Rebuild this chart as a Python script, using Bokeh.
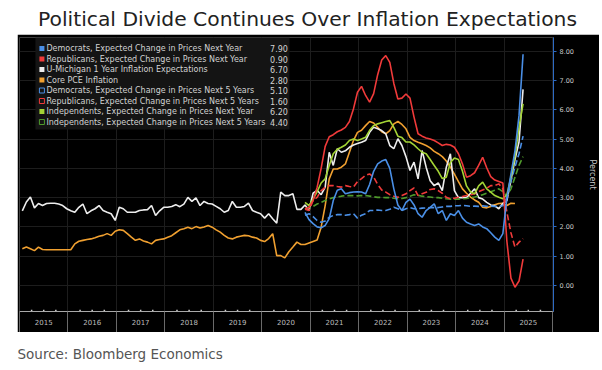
import pandas as pd
from bokeh.plotting import figure
from bokeh.models import Range1d, FixedTicker, PrintfTickFormatter, CustomJSTickFormatter, Spacer
from bokeh.layouts import column, row
from bokeh.core.properties import value
from bokeh.embed import file_html
from bokeh.resources import INLINE

# ---------------- data ----------------
TITLE = "Political Divide Continues Over Inflation Expectations"
SOURCE = "Source: Bloomberg Economics"
YEAR_LABELS = ["2015", "2016", "2017", "2018", "2019", "2020",
               "2021", "2022", "2023", "2024", "2025"]
Y_TICKS = [0, 1, 2, 3, 4, 5, 6, 7, 8]
Y_LABEL = "Percent"

UMICH_START = "2015-01"
UMICH_1Y = [
    2.55, 2.85, 3.02, 2.65, 2.80, 2.73, 2.80, 2.81, 2.81, 2.78, 2.73, 2.62,
    2.55, 2.50, 2.67, 2.78, 2.45, 2.55, 2.62, 2.73, 2.56, 2.50, 2.45, 2.22,
    2.67, 2.62, 2.50, 2.50, 2.50, 2.56, 2.58, 2.59, 2.73, 2.39, 2.55, 2.67,
    2.67, 2.70, 2.76, 2.69, 2.78, 3.01, 2.87, 2.99, 2.73, 2.87, 2.80, 2.78,
    2.70, 2.62, 2.50, 2.56, 2.87, 2.67, 2.67, 2.70, 2.81, 2.56, 2.50, 2.45,
    2.30, 2.45, 2.28, 2.13, 3.19, 3.07, 3.07, 3.13, 2.60, 2.60, 2.75, 2.56,
    3.15, 3.25, 3.10, 3.36, 4.55, 4.10, 4.67, 4.55, 4.60, 4.72, 4.80, 4.85,
    4.89, 4.95, 5.23, 5.40, 5.35, 5.29, 5.18, 4.78, 4.67, 5.01, 4.78, 4.40,
    3.93, 4.21, 3.64, 4.61, 4.04, 3.58, 3.41, 3.50, 3.24, 4.04, 4.50, 3.24,
    3.00, 3.00, 3.00, 3.15, 3.30, 3.00, 2.95, 2.84, 2.75, 2.72, 2.62, 2.80,
    2.90, 3.60, 4.30, 4.90, 6.70,
]

PCE_START = "2015-01"
CORE_PCE = [
    1.25, 1.31, 1.25, 1.19, 1.31, 1.23, 1.22, 1.22, 1.22, 1.22, 1.22, 1.22,
    1.22, 1.42, 1.51, 1.54, 1.57, 1.59, 1.63, 1.68, 1.71, 1.77, 1.71, 1.85,
    1.90, 1.88, 1.77, 1.65, 1.54, 1.59, 1.52, 1.48, 1.42, 1.54, 1.57, 1.59,
    1.65, 1.70, 1.80, 1.90, 1.94, 1.99, 1.94, 2.01, 1.96, 2.00, 2.05, 1.99,
    1.90, 1.82, 1.71, 1.62, 1.59, 1.65, 1.68, 1.71, 1.70, 1.65, 1.62, 1.54,
    1.50, 1.60, 1.77, 1.02, 1.02, 0.94, 1.15, 1.31, 1.48, 1.40, 1.40, 1.45,
    1.50, 1.55, 1.99, 2.73, 3.64, 3.98, 3.98, 4.04, 4.15, 4.55, 4.95, 5.23,
    5.30, 5.46, 5.60, 5.55, 5.40, 5.25, 5.18, 5.29, 5.52, 5.60, 5.50, 5.35,
    5.06, 4.95, 4.89, 4.84, 4.78, 4.70, 4.58, 4.50, 4.40, 4.25, 4.04, 3.80,
    3.55, 3.30, 3.15, 3.02, 2.92, 2.84, 2.67, 2.65, 2.70, 2.76, 2.80, 2.81,
    2.73, 2.81, 2.80,
]

PARTISAN_START = "2020-11"
DEM_1Y = [
    2.50, 2.25,
    2.11, 2.00, 1.97, 2.05, 2.28, 2.90, 3.25, 3.30, 3.13, 3.17, 3.19, 3.20,
    3.19, 3.13, 3.45, 3.90, 4.15, 4.25, 4.30, 4.00, 3.30, 2.75, 2.56, 2.84,
    2.95, 2.75, 2.45, 2.33, 2.56, 2.67, 2.79, 2.45, 2.56, 2.22, 2.45, 2.39,
    2.56, 2.30, 2.16, 2.10, 2.05, 2.10, 2.00, 1.94, 1.80, 1.65, 1.54, 1.77,
    3.00, 3.80, 4.60, 5.80, 7.90,
]
REP_1Y = [
    2.62, 2.67,
    2.90, 3.35, 4.00, 4.75, 5.08, 5.15, 5.25, 5.31, 5.40, 5.60, 6.03, 6.60,
    6.80, 6.49, 6.26, 6.55, 7.20, 7.70, 7.85, 7.62, 6.90, 6.37, 6.40, 6.54,
    6.40, 5.75, 5.18, 5.10, 5.04, 5.00, 4.95, 4.87, 4.78, 4.82, 4.80, 4.72,
    4.50, 4.15, 3.70, 3.75, 3.85, 4.10, 4.38, 4.02, 3.72, 3.60, 3.55, 3.50,
    1.50, 0.25, -0.06, 0.15, 0.90,
]
DEM_5Y = [
    2.40, 2.45,
    2.35, 2.22, 2.16, 2.20, 2.33, 2.39, 2.42, 2.42, 2.40, 2.42, 2.45, 2.30,
    2.40, 2.45, 2.56, 2.56, 2.58, 2.56, 2.56, 2.60, 2.67, 2.62, 2.56, 2.62,
    2.66, 2.62, 2.62, 2.64, 2.65, 2.66, 2.66, 2.66, 2.68, 2.70, 2.70, 2.72,
    2.72, 2.74, 2.72, 2.70, 2.71, 2.70, 2.72, 2.70, 2.71, 2.70, 2.70, 2.72,
    3.00, 3.55, 4.05, 4.50, 5.10,
]
REP_5Y = [
    2.60, 2.56,
    2.90, 3.01, 3.24, 3.35, 3.41, 3.41, 3.38, 3.36, 3.41, 3.38, 3.36, 3.55,
    3.65, 3.76, 3.81, 3.70, 3.45, 3.26, 3.19, 3.10, 3.05, 3.01, 3.07, 3.13,
    3.24, 3.33, 3.07, 3.13, 3.18, 3.28, 3.30, 3.24, 3.15, 3.01, 2.96, 2.98,
    3.01, 3.04, 3.07, 3.10, 3.13, 3.20, 3.26, 3.32, 3.41, 3.41, 3.47, 3.30,
    2.50, 1.80, 1.31, 1.48, 1.60,
]
IND_1Y = [
    2.84, 2.73,
    2.95, 3.20, 3.50, 3.64, 4.10, 4.50, 4.65, 4.72, 4.80, 4.95, 5.00, 4.95,
    5.00, 5.06, 5.30, 5.46, 5.52, 5.56, 5.60, 5.63, 5.40, 5.10, 5.05, 4.90,
    4.90, 4.80, 4.67, 4.55, 4.50, 4.30, 4.10, 3.90, 3.65, 3.70, 4.20, 4.35,
    4.30, 3.90, 3.40, 3.19, 3.13, 3.40, 3.53, 3.30, 3.19, 3.07, 3.01, 2.96,
    3.10, 3.70, 4.40, 5.40, 6.20,
]
IND_5Y = [
    2.60, 2.65,
    2.70, 2.78, 2.84, 2.90, 2.96, 3.00, 3.02, 3.05, 3.07, 3.07, 3.07, 3.06,
    3.07, 3.07, 3.05, 3.03, 3.01, 3.01, 3.00, 3.00, 2.98, 2.96, 2.97, 3.00,
    3.05, 3.10, 3.08, 3.05, 3.03, 3.02, 3.00, 3.00, 2.98, 2.96, 2.95, 2.95,
    2.95, 2.96, 2.97, 3.00, 3.02, 3.05, 3.10, 3.15, 3.20, 3.25, 3.30, 3.20,
    3.05, 3.30, 3.70, 4.10, 4.40,
]

BLUE = "#4a8fe6"
RED = "#f03a3a"
WHITE = "#ededed"
ORANGE = "#f0a030"
GREEN = "#a3d435"
DKGREEN = "#4f9a2c"

# label, values, start month, colour, dash (None = solid)
SERIES = [
    ("Democrats, Expected Change in Prices Next Year", DEM_1Y, PARTISAN_START, BLUE, None),
    ("Republicans, Expected Change in Prices Next Year", REP_1Y, PARTISAN_START, RED, None),
    ("U-Michigan 1 Year Inflation Expectations", UMICH_1Y, UMICH_START, WHITE, None),
    ("Core PCE Inflation", CORE_PCE, PCE_START, ORANGE, None),
    ("Democrats, Expected Change in Prices Next 5 Years", DEM_5Y, PARTISAN_START, BLUE, "6 3"),
    ("Republicans, Expected Change in Prices Next 5 Years", REP_5Y, PARTISAN_START, RED, "6 3"),
    ("Independents, Expected Change in Prices Next Year", IND_1Y, PARTISAN_START, GREEN, None),
    ("Independents, Expected Change in Prices Next 5 Years", IND_5Y, PARTISAN_START, DKGREEN, "6 3"),
]
DRAW_ORDER = [3, 2, 7, 4, 5, 6, 1, 0]


def month_x(start, n):
    d = pd.date_range(start, periods=n, freq="MS")
    return list(d.year + (d.month - 0.3) / 12.0)


# ---------------- main chart ----------------
X0, X1 = 2015.0, 2026.02
Y0, Y1 = -0.89, 8.47
W, H = 582, 298
ML, MR, MT, MB = 2, 44, 3, 21
FONT = "DejaVu Sans"

p = figure(width=W, height=H, x_range=Range1d(X0, X1), y_range=Range1d(Y0, Y1),
           y_axis_location="right", toolbar_location=None, output_backend="svg",
           title=None, background_fill_color="black", border_fill_color="black",
           outline_line_color=None, min_border_left=ML, min_border_right=MR,
           min_border_top=MT, min_border_bottom=MB)


def fx(px):
    return X0 + (px - ML) / (W - ML - MR) * (X1 - X0)


def fy(py):
    return Y1 - (py - MT) / (H - MT - MB) * (Y1 - Y0)


first_year = int(YEAR_LABELS[0])
bounds = [first_year + i for i in range(len(YEAR_LABELS) + 1)]
mids = [first_year + i + 0.5 for i in range(len(YEAR_LABELS))]

xa = p.xaxis[0]
xa.ticker = FixedTicker(ticks=mids, minor_ticks=bounds)
xa.formatter = CustomJSTickFormatter(args=dict(labels=YEAR_LABELS, start=first_year),
                                     code="return labels[Math.floor(tick) - start];")
xa.major_tick_line_color = None
xa.major_tick_out = 0
xa.major_tick_in = 0
xa.minor_tick_line_color = "#6a6a6a"
xa.minor_tick_out = 21
xa.minor_tick_in = 0
xa.axis_line_color = "#a8a8a8"
xa.major_label_text_color = "#bdbdbd"
xa.major_label_text_font = FONT
xa.major_label_text_font_size = "7px"
xa.major_label_standoff = -14

ya = p.yaxis[0]
ya.ticker = FixedTicker(ticks=Y_TICKS, minor_ticks=[])
ya.formatter = PrintfTickFormatter(format="%.2f")
ya.axis_line_color = "#2e6bc4"
ya.major_tick_line_color = "#2e6bc4"
ya.major_tick_out = 3
ya.major_tick_in = 0
ya.minor_tick_line_color = None
ya.major_label_text_color = "#c8c8c8"
ya.major_label_text_font = FONT
ya.major_label_text_font_size = "6.5px"
ya.major_label_standoff = 3
ya.axis_label = Y_LABEL
ya.axis_label_text_color = "#c8c8c8"
ya.axis_label_text_font = FONT
ya.axis_label_text_font_size = "8px"
ya.axis_label_text_font_style = "normal"
ya.axis_label_standoff = 11

p.ygrid.grid_line_color = "#1d1d1d"
p.xgrid.ticker = FixedTicker(ticks=bounds)
p.xgrid.grid_line_color = "#1d1d1d"

# quarter marks on the time axis
qx = [b + q for b in bounds[:-1] for q in (0.25, 0.5, 0.75)]
p.scatter(qx, [fy(H - MB - 1)] * len(qx), marker="square", size=1.5,
          color="#d0d0d0", line_color=None)

for i in DRAW_ORDER:
    label, vals, start, col, dash = SERIES[i]
    kw = dict(line_color=col, line_width=1.6)
    if dash:
        kw["line_dash"] = dash
    p.line(month_x(start, len(vals)), vals, **kw)

# legend box (drawn in the chart's own coordinates)
p.quad(left=[fx(18)], right=[fx(273)], top=[fy(3)], bottom=[fy(95)],
       fill_color="#141414", line_color=None)
row_y = [fy(14 + 10.5 * i) for i in range(len(SERIES))]
solid = [i for i, s in enumerate(SERIES) if s[4] is None]
dashed = [i for i, s in enumerate(SERIES) if s[4] is not None]
p.scatter([fx(24.5)] * len(solid), [row_y[i] for i in solid], marker="square", size=5,
          fill_color=[SERIES[i][3] for i in solid], line_color=None)
p.scatter([fx(24.5)] * len(dashed), [row_y[i] for i in dashed], marker="square", size=5,
          fill_color=None, line_color=[SERIES[i][3] for i in dashed], line_width=1)
p.text(x=[fx(29)] * len(SERIES), y=row_y, text=[s[0] for s in SERIES],
       text_font=value(FONT), text_font_size="8px", text_color="#d2d2d2",
       text_baseline="middle", text_align="left")
p.text(x=[fx(253.5)] * len(SERIES), y=row_y, text=["%.2f" % s[1][-1] for s in SERIES],
       text_font=value(FONT), text_font_size="8px", text_color="#d2d2d2",
       text_baseline="middle", text_align="left")

# ---------------- title and source strips ----------------
TW = 600
TH, SH = 34, 36
t = figure(width=TW, height=TH, x_range=Range1d(0, TW), y_range=Range1d(0, TH),
           x_axis_type=None, y_axis_type=None, toolbar_location=None, output_backend="svg",
           title=None, min_border_left=0, min_border_right=0, min_border_top=0,
           min_border_bottom=0, outline_line_color=None,
           background_fill_color="white", border_fill_color="white")
t.text(x=[307], y=[TH - 18], text=[TITLE], text_align="center", text_baseline="middle",
       text_font=value(FONT), text_font_size="20.3px", text_color="#222222")

s = figure(width=TW, height=SH, x_range=Range1d(0, TW), y_range=Range1d(0, SH),
           x_axis_type=None, y_axis_type=None, toolbar_location=None, output_backend="svg",
           title=None, min_border_left=0, min_border_right=0, min_border_top=0,
           min_border_bottom=0, outline_line_color=None,
           background_fill_color="white", border_fill_color="white")
s.text(x=[17], y=[SH - 21.5], text=[SOURCE], text_align="left", text_baseline="middle",
       text_font=value(FONT), text_font_size="13.5px", text_color="#555555")

layout = column(t, row(Spacer(width=17, height=H), p), s)
open("out.html", "w").write(file_html(layout, INLINE))
